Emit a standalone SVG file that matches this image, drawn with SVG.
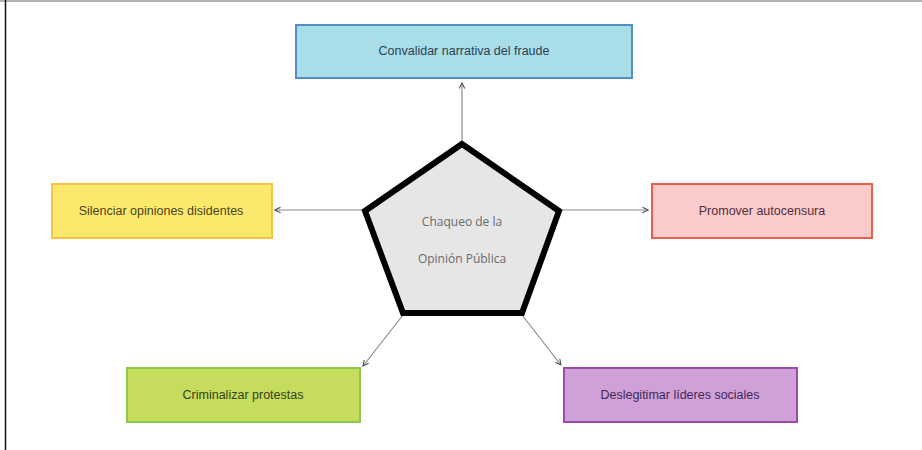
<svg xmlns="http://www.w3.org/2000/svg" width="922" height="450" viewBox="0 0 922 450">
<style>
.box{stroke-width:2}
.lbl{font-family:"Liberation Sans",Arial,sans-serif;font-size:12.5px;text-anchor:middle;dominant-baseline:central}
.conn{stroke:#8a8a8a;stroke-width:1.2;fill:none;marker-end:url(#ah)}
.ctr{font-family:"Open Sans","Liberation Sans",sans-serif;font-size:12px;fill:#6a6a6a;text-anchor:middle;dominant-baseline:central}
</style>
<defs>
<marker id="ah" viewBox="0 0 10 10" refX="9" refY="5" markerWidth="7" markerHeight="7" orient="auto" markerUnits="userSpaceOnUse">
<path d="M1,1 L9,5 L1,9" fill="none" stroke="#555" stroke-width="1.6"/>
</marker>
</defs>
<rect x="0" y="0" width="922" height="450" fill="#ffffff"/>
<line x1="0" y1="1" x2="922" y2="1" stroke="#999" stroke-width="1.5"/>
<line x1="5.5" y1="0" x2="5.5" y2="450" stroke="#111" stroke-width="1.5"/>
<g id="connectors">
<line class="conn" x1="462" y1="140" x2="462" y2="83"/>
<line class="conn" x1="362" y1="210" x2="275" y2="210"/>
<line class="conn" x1="561" y1="210" x2="648" y2="210"/>
<line class="conn" x1="403" y1="315" x2="363" y2="366"/>
<line class="conn" x1="522" y1="315" x2="561" y2="365"/>
</g>
<g id="center">
<polygon points="462,144 559,211 522,313 403,313 365,211" fill="#e6e6e6" stroke="#000" stroke-width="6" stroke-linejoin="miter"/>
<text class="ctr" x="462" y="221">Chaqueo de la</text>
<text class="ctr" x="462" y="258">Opinión Pública</text>
</g>
<g id="n-convalidar">
<rect class="box" x="296" y="25" width="336" height="53" fill="#a9dde7" stroke="#4f8fc4"/>
<text class="lbl" x="464" y="51" fill="#2e3f55">Convalidar narrativa del fraude</text>
</g>
<g id="n-silenciar">
<rect class="box" x="52" y="184" width="220" height="54" fill="#fde86e" stroke="#f6c343"/>
<text class="lbl" x="161" y="211" fill="#4a4620">Silenciar opiniones disidentes</text>
</g>
<g id="n-promover">
<rect class="box" x="652" y="184" width="220" height="54" fill="#fbcaca" stroke="#e8604c"/>
<text class="lbl" x="762" y="211" fill="#503040">Promover autocensura</text>
</g>
<g id="n-criminalizar">
<rect class="box" x="127" y="368" width="233" height="54" fill="#c6dc5c" stroke="#8cc84e"/>
<text class="lbl" x="243" y="395" fill="#344218">Criminalizar protestas</text>
</g>
<g id="n-deslegitimar">
<rect class="box" x="564" y="368" width="233" height="54" fill="#d0a0d8" stroke="#9a4caa"/>
<text class="lbl" x="680" y="395" fill="#402a55">Deslegitimar líderes sociales</text>
</g>
</svg>
